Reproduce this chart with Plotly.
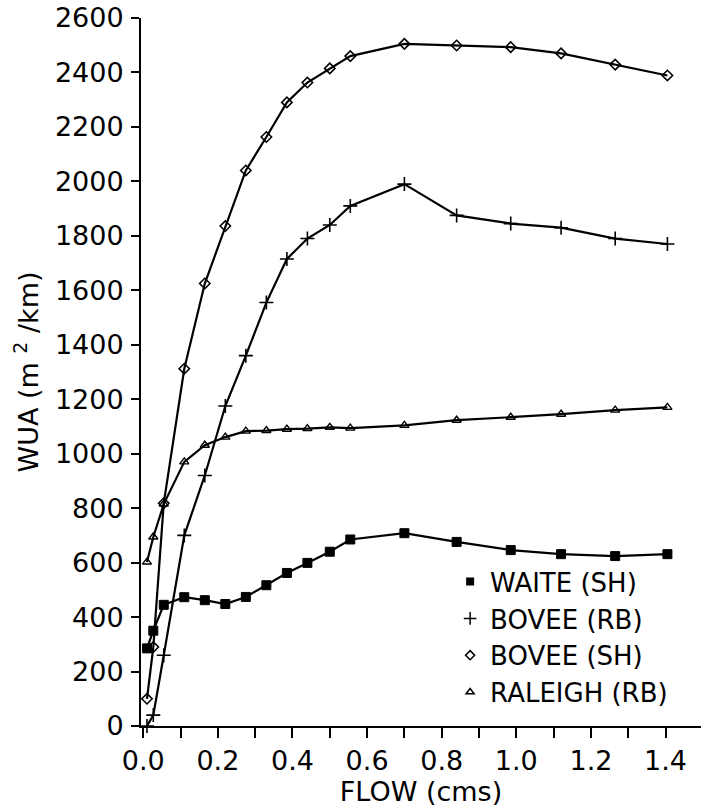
import plotly.graph_objects as go

# Discharge (cms) at which each habitat estimate was computed
flow = [0.01, 0.027, 0.055, 0.11, 0.165, 0.22, 0.275, 0.33, 0.385, 0.44,
        0.50, 0.555, 0.70, 0.84, 0.985, 1.12, 1.265, 1.405]

# Weighted usable area (m^2/km) for each habitat-suitability criteria set
waite_sh = [285, 350, 445, 473, 462, 448, 474, 517, 562, 599,
            640, 685, 708, 676, 646, 631, 624, 631]
bovee_rb = [0, 40, 260, 700, 920, 1175, 1360, 1555, 1715, 1790,
            1840, 1910, 1990, 1875, 1845, 1830, 1790, 1770]
bovee_sh = [100, 290, 818, 1312, 1625, 1836, 2040, 2163, 2290, 2363,
            2415, 2460, 2505, 2499, 2493, 2470, 2429, 2389]
raleigh_rb = [602, 694, 815, 970, 1031, 1061, 1083, 1085, 1090, 1092,
              1097, 1094, 1104, 1123, 1134, 1145, 1160, 1170]

series_names = ["WAITE (SH)", "BOVEE (RB)", "BOVEE (SH)", "RALEIGH (RB)"]
series_values = [waite_sh, bovee_rb, bovee_sh, raleigh_rb]

x_ticks = [0.0, 0.2, 0.4, 0.6, 0.8, 1.0, 1.2, 1.4]
x_tick_labels = ["0.0", "0.2", "0.4", "0.6", "0.8", "1.0", "1.2", "1.4"]
y_ticks = list(range(0, 2601, 200))

FONT = "DejaVu Sans"
INK = "black"

markers = [
    dict(symbol="square", size=9, color=INK, line=dict(width=1, color=INK)),
    dict(symbol="cross-thin", size=10, color=INK, line=dict(width=1.6, color=INK)),
    dict(symbol="diamond-open", size=8, color=INK, line=dict(width=1.6, color=INK)),
    dict(symbol="triangle-up-open", size=8, color=INK, line=dict(width=1.4, color=INK)),
]
legend_markers = [
    dict(symbol="square", size=8, color=INK),
    dict(symbol="cross-thin", size=9, color=INK, line=dict(width=1.5, color=INK)),
    dict(symbol="diamond-open", size=7, color=INK, line=dict(width=1.5, color=INK)),
    dict(symbol="triangle-up-open", size=7, color=INK, line=dict(width=1.5, color=INK)),
]

fig = go.Figure()
for name, vals, mk in zip(series_names, series_values, markers):
    fig.add_trace(go.Scatter(
        x=flow, y=vals, mode="lines+markers", name=name,
        line=dict(color=INK, width=2.2), marker=mk, showlegend=False,
        cliponaxis=False,
    ))
# Marker-only keys for the legend
for name, mk in zip(series_names, legend_markers):
    fig.add_trace(go.Scatter(x=[None], y=[None], mode="markers", name=name,
                             marker=mk, showlegend=True))

fig.update_layout(
    width=701, height=811,
    margin=dict(l=141, r=0, t=18, b=85),
    paper_bgcolor="white", plot_bgcolor="white",
    font=dict(family=FONT, color=INK, size=26),
    showlegend=True,
    legend=dict(
        x=0.552, xanchor="left", y=0.237, yanchor="top",
        bgcolor="rgba(0,0,0,0)", borderwidth=0,
        font=dict(family=FONT, size=26, color=INK),
        itemwidth=30, tracegroupgap=0,
    ),
)
fig.update_xaxes(
    range=[-0.006, 1.495], showgrid=False, zeroline=False,
    showline=True, linecolor=INK, linewidth=2,
    tickmode="array", tickvals=x_ticks, ticktext=x_tick_labels,
    ticks="outside", ticklen=10, tickwidth=1.5, tickcolor=INK,
    tickfont=dict(family=FONT, size=27, color=INK),
    ticklabelstandoff=0,
    minor=dict(dtick=0.1, tick0=0, ticks="outside", ticklen=10,
               tickwidth=1.5, tickcolor=INK, showgrid=False),
    title=dict(text="FLOW (cms)", font=dict(family=FONT, size=27, color=INK),
               standoff=6),
)
fig.update_yaxes(
    range=[0, 2600], showgrid=False, zeroline=False,
    showline=True, linecolor=INK, linewidth=2,
    tickmode="array", tickvals=y_ticks,
    ticks="outside", ticklen=8, tickwidth=1.5, tickcolor=INK,
    tickfont=dict(family=FONT, size=27, color=INK),
    ticklabelstandoff=2,
    title=dict(text="WUA (m <sup>2</sup> /km)",
               font=dict(family=FONT, size=27, color=INK), standoff=8),
)

fig.write_html("out.html")
